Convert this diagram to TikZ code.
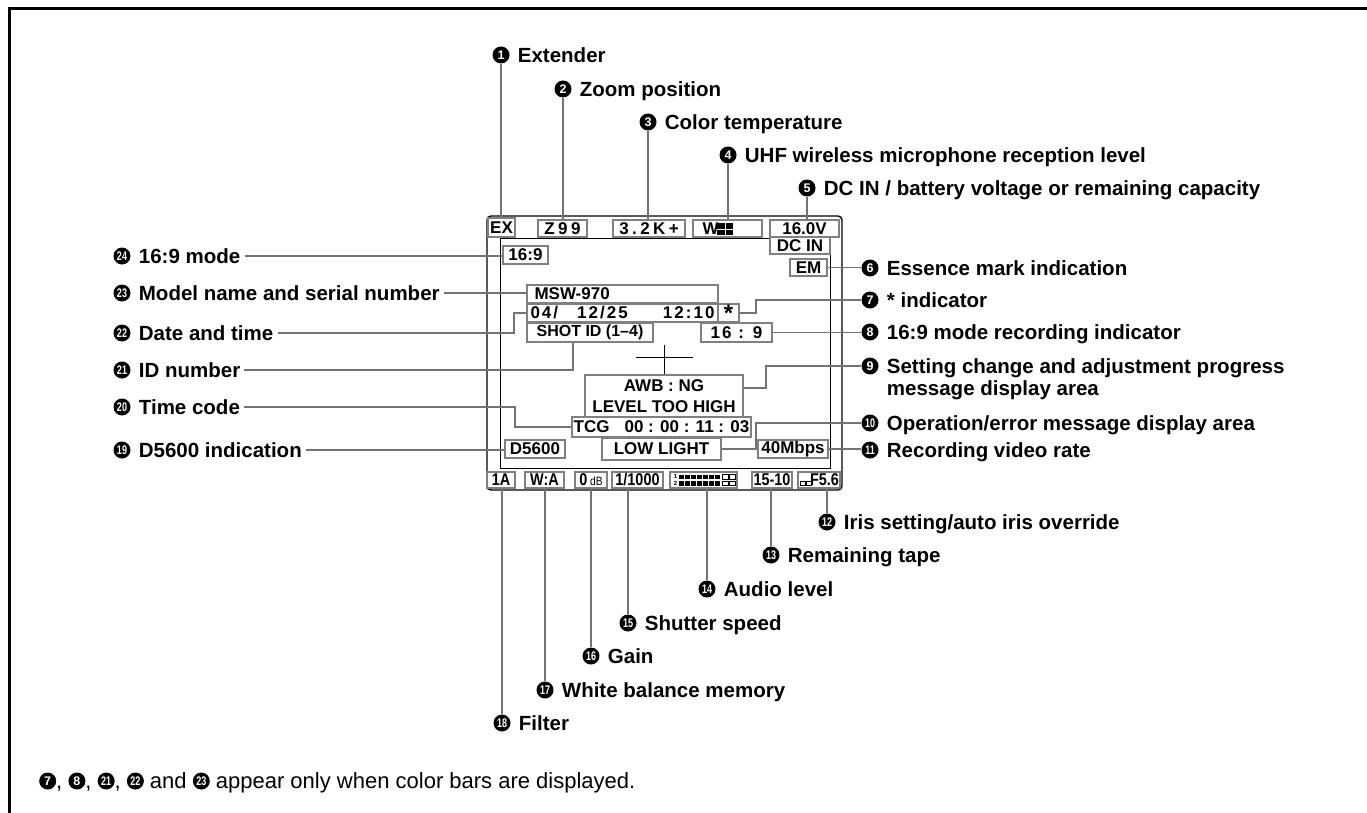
\documentclass[tikz,border=0pt]{standalone}
\usepackage{fontspec}
\setmainfont{Liberation Sans}
\newfontfamily\lcdwide[LetterSpace=20]{Liberation Sans}
\newfontfamily\lcdmid[LetterSpace=12]{Liberation Sans}
\newfontfamily\lcdnarrow[FakeStretch=0.85]{Liberation Sans}
\usepackage{graphicx}
\usepackage{tikz}
\usetikzlibrary{positioning}

\tikzset{numdot/.style={circle, fill=black, text=white, inner sep=0pt, minimum size=17pt, font=\fontsize{12.5}{12.5}\selectfont\bfseries}}
\newcommand\numfmt[1]{\ifnum#1>9 \scalebox{0.72}[1]{#1}\else#1\fi}
\newcommand\badge[1]{\tikz[baseline=-7.9pt]\node[numdot] (bb) {\numfmt{#1}};}

\begin{document}
\begin{tikzpicture}[x=1pt, y=-1pt,
lbl/.style={font=\fontsize{20.5}{22}\selectfont\bfseries, inner xsep=4pt, inner ysep=0pt, text height=14.6pt, text depth=0pt},
lcd/.style={draw=black!50, line width=1.8pt, fill=white, inner sep=0pt, minimum height=17pt, font=\fontsize{17}{20}\selectfont\bfseries},
bot/.style={minimum height=16pt, font=\fontsize{17}{18}\selectfont\bfseries\lcdnarrow},
lead/.style={draw=black!55, line width=1.6pt}
]
\useasboundingbox (0,0) rectangle (1367,813);
\draw[line width=3pt] (9,813) -- (9,9) -- (1367,9);

% viewfinder screen
\draw[line width=1.4pt, rounded corners=4pt] (487,216) rectangle (842,490);
\draw[line width=0.9pt] (500,238) rectangle (830,468);

% top row
\node[lcd, minimum width=27pt, minimum height=19pt] (bex) at (501.5,227.5) {EX};
\node[lcd, minimum width=49pt] (bzoom) at (562.5,228.5) {\lcdwide Z99};
\node[lcd, minimum width=72pt] (btemp) at (649,228.5) {\lcdwide 3.2K+};
\node[lcd, minimum width=69pt, text width=50pt, align=left] (bwrl) at (727.5,228.5) {W};
\fill (717,223) rectangle (724.5,228.5);
\fill (726,223) rectangle (733,228.5);
\fill (717,230) rectangle (724.5,235);
\fill (726,230) rectangle (733,235);
\node[lcd, minimum width=69pt] (bvolt) at (804.5,228.5) {16.0V};
\node[lcd, minimum width=60pt] (bdcin) at (800,245.5) {DC IN};
\node[lcd, minimum width=37pt] (bem) at (808.5,267.5) {EM};
\node[lcd, minimum width=45pt, minimum height=18pt] (bwide) at (525.5,255) {16:9};

% middle of the screen
\node[lcd, minimum width=191pt, minimum height=18pt, text width=176pt, align=left] (bmodel) at (622.5,294) {MSW-970};
\node[lcd, minimum width=191pt, minimum height=18pt, text width=184pt] (bdate) at (622.5,313) {\lcdmid 04/\hspace{19pt}12/25\hfill 12:10};
\node[lcd, minimum width=21pt, minimum height=18pt] (bstar) at (728.5,313) {\raisebox{-8pt}{\fontsize{24}{24}\selectfont *}};
\node[lcd, minimum width=126pt, minimum height=19pt] (bshot) at (590,332.5) {\fontsize{16}{19}\selectfont SHOT ID (1–4)};
\node[lcd, minimum width=71pt, minimum height=19pt] (bratio) at (736.5,332.5) {\lcdmid 16 : 9};
\draw[line width=0.8pt] (636,357) -- (693,357);
\draw[line width=0.8pt] (664,345) -- (664,375);
\node[lcd, minimum width=158pt, minimum height=42pt, align=center, font=\fontsize{17}{20.5}\selectfont\bfseries] (bmsg) at (664,396) {AWB : NG\\LEVEL TOO HIGH};
\node[lcd, minimum width=179pt, minimum height=20pt] (btc) at (661.5,427) {TCG\hspace{15pt}00 : 00 : 11 : 03};
\node[lcd, minimum width=60pt, minimum height=18pt] (bd56) at (535,449) {D5600};
\node[lcd, minimum width=119pt, minimum height=22pt] (blow) at (661.5,449) {LOW LIGHT};
\node[lcd, minimum width=70pt, minimum height=18pt] (brate) at (793,449) {40Mbps};

% bottom row
\node[lcd, bot, minimum width=28pt] (bfilt) at (501,480) {1A};
\node[lcd, bot, minimum width=39pt] (bwb) at (544.5,480) {W:A};
\node[lcd, bot, minimum width=32pt] (bgain) at (591,480) {0\,{\fontsize{12}{12}\selectfont\mdseries dB}};
\node[lcd, bot, minimum width=51pt] (bshut) at (637.5,480) {1/1000};
\node[lcd, bot, minimum width=67pt] (baudio) at (703.5,480) {};
\node[font=\fontsize{6}{6}\selectfont\bfseries, inner sep=0pt] (ch1) at (675.5,476.5) {1};
\node[font=\fontsize{6}{6}\selectfont\bfseries, inner sep=0pt] (ch2) at (675.5,483.5) {2};
\foreach \i in {0,...,6} {
  \fill (679+6*\i,474.5) rectangle ++(5,4.8);
  \fill (679+6*\i,481) rectangle ++(5,4.8);
}
\foreach \i in {0,1} {
  \draw[line width=0.7pt] (722.5+7*\i,474.8) rectangle ++(5.5,4.5);
  \draw[line width=0.7pt] (722.5+7*\i,481.2) rectangle ++(5.5,4.5);
}
\node[lcd, bot, minimum width=40pt] (btape) at (772,480) {15-10};
\node[lcd, bot, minimum width=42pt] (biris) at (819,480) {\hspace*{11pt}F5.6};
\draw[line width=0.6pt] (800.5,481) rectangle (805,485.5);
\draw[line width=0.6pt] (806.5,481) rectangle (811,485.5);

% callouts above
\node[numdot] (n1) at (501,55) {1};
\node[lbl, right=4pt of n1] (t1) {Extender};
\node[numdot] (n2) at (563,89) {2};
\node[lbl, right=4pt of n2] (t2) {Zoom position};
\node[numdot] (n3) at (648,122) {3};
\node[lbl, right=4pt of n3] (t3) {Color temperature};
\node[numdot] (n4) at (728,155) {4};
\node[lbl, right=4pt of n4] (t4) {UHF wireless microphone reception level};
\node[numdot] (n5) at (807,188) {5};
\node[lbl, right=4pt of n5] (t5) {DC IN / battery voltage or remaining capacity};

% callouts on the right
\node[numdot] (n6) at (870,268) {6};
\node[lbl, right=4pt of n6] (t6) {Essence mark indication};
\node[numdot] (n7) at (870,300) {7};
\node[lbl, right=4pt of n7] (t7) {* indicator};
\node[numdot] (n8) at (870,332) {8};
\node[lbl, right=4pt of n8] (t8) {16:9 mode recording indicator};
\node[numdot] (n9) at (870,366) {9};
\node[lbl, align=left, anchor=base west] (t9) at ([xshift=4pt, yshift=-29.3pt]n9.east) {Setting change and adjustment progress\\message display area};
\node[numdot] (n10) at (870,423) {\numfmt{10}};
\node[lbl, right=4pt of n10] (t10) {Operation/error message display area};
\node[numdot] (n11) at (870,450) {\numfmt{11}};
\node[lbl, right=4pt of n11] (t11) {Recording video rate};

% callouts below
\node[numdot] (n12) at (827,522) {\numfmt{12}};
\node[lbl, right=4pt of n12] (t12) {Iris setting/auto iris override};
\node[numdot] (n13) at (771,555) {\numfmt{13}};
\node[lbl, right=4pt of n13] (t13) {Remaining tape};
\node[numdot] (n14) at (707,589) {\numfmt{14}};
\node[lbl, right=4pt of n14] (t14) {Audio level};
\node[numdot] (n15) at (628,623) {\numfmt{15}};
\node[lbl, right=4pt of n15] (t15) {Shutter speed};
\node[numdot] (n16) at (591,656) {\numfmt{16}};
\node[lbl, right=4pt of n16] (t16) {Gain};
\node[numdot] (n17) at (545,690) {\numfmt{17}};
\node[lbl, right=4pt of n17] (t17) {White balance memory};
\node[numdot] (n18) at (502,723) {\numfmt{18}};
\node[lbl, right=4pt of n18] (t18) {Filter};

% callouts on the left
\node[numdot] (n19) at (122,450) {\numfmt{19}};
\node[lbl, right=4pt of n19] (t19) {D5600 indication};
\node[numdot] (n20) at (122,407) {\numfmt{20}};
\node[lbl, right=4pt of n20] (t20) {Time code};
\node[numdot] (n21) at (122,370) {\numfmt{21}};
\node[lbl, right=4pt of n21] (t21) {ID number};
\node[numdot] (n22) at (122,333) {\numfmt{22}};
\node[lbl, right=4pt of n22] (t22) {Date and time};
\node[numdot] (n23) at (122,293) {\numfmt{23}};
\node[lbl, right=4pt of n23] (t23) {Model name and serial number};
\node[numdot] (n24) at (122,256) {\numfmt{24}};
\node[lbl, right=4pt of n24] (t24) {16:9 mode};

% leader lines
\draw[lead] (n1.south) -- (n1.south |- bex.north);
\draw[lead] (n2.south) -- (n2.south |- bzoom.north);
\draw[lead] (n3.south) -- (n3.south |- btemp.north);
\draw[lead] (n4.south) -- (n4.south |- bwrl.north);
\draw[lead] (n5.south) -- (n5.south |- bvolt.north);
\draw[lead] (bem.east) -- (bem.east -| n6.west);
\draw[lead] (bstar.east) -- ++(16,0) |- (n7.west);
\draw[lead] (bratio.east) -- (bratio.east -| n8.west);
\draw[lead] ([yshift=8pt]bmsg.east) -- ++(22,0) |- (n9.west);
\draw[lead] (blow.east) -- ++(34,0) |- (n10.west);
\draw[lead] (brate.east) -- (brate.east -| n11.west);
\draw[lead] (n12.north) -- (n12.north |- biris.south);
\draw[lead] (n13.north) -- (n13.north |- btape.south);
\draw[lead] (n14.north) -- (n14.north |- baudio.south);
\draw[lead] (n15.north) -- (n15.north |- bshut.south);
\draw[lead] (n16.north) -- (n16.north |- bgain.south);
\draw[lead] (n17.north) -- (n17.north |- bwb.south);
\draw[lead] (n18.north) -- (n18.north |- bfilt.south);
\draw[lead] (n19 -| t19.east) -- (n19 -| bd56.west);
\draw[lead] (n20 -| t20.east) -| ([xshift=-56pt]btc.west) -- (btc.west);
\draw[lead] (n21 -| t21.east) -| ([xshift=-17pt]bshot.south);
\draw[lead] (n22 -| t22.east) -| ([xshift=-12pt]bdate.west) -- (bdate.west);
\draw[lead] (n23 -| t23.east) -- (n23 -| bmodel.west);
\draw[lead] (n24 -| t24.east) -- (n24 -| bwide.west);

% footnote
\node[anchor=west, inner sep=0pt, font=\fontsize{22}{24}\selectfont] (note) at (39,783) {\badge{7}, \badge{8}, \badge{21}, \badge{22} and \badge{23} appear only when color bars are displayed.};
\end{tikzpicture}
\end{document}
